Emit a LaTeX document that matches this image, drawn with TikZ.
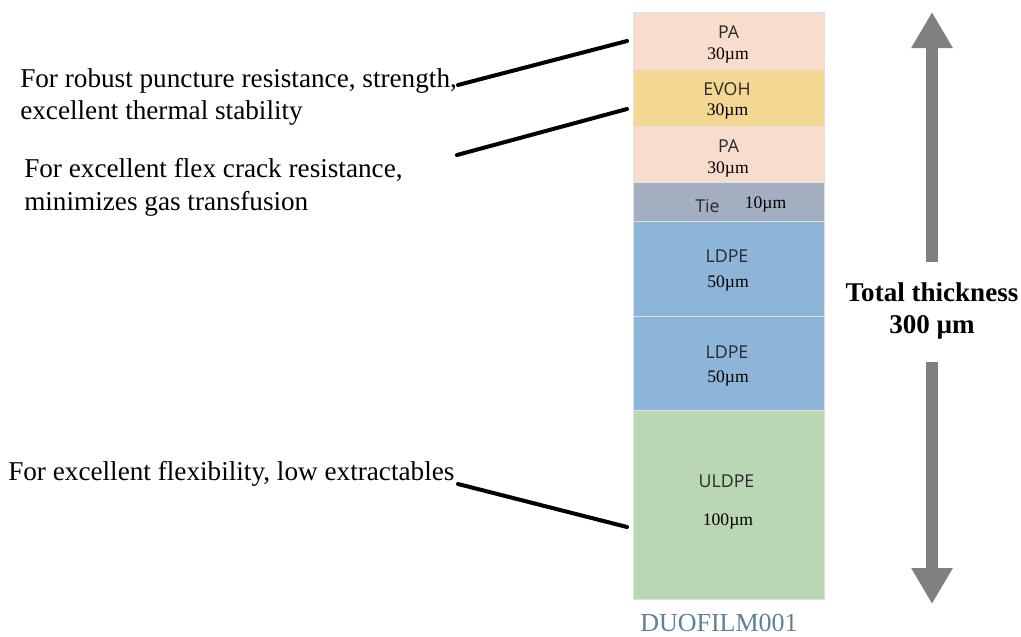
\documentclass[tikz,border=0pt]{standalone}
\usepackage{fontspec}
\setmainfont{Liberation Serif}
\newfontfamily\labfont{Open Sans}
\usetikzlibrary{arrows.meta}
\definecolor{pacol}{HTML}{F8DCCC}
\definecolor{evohcol}{HTML}{F5D794}
\definecolor{tiecol}{HTML}{A3AFC0}
\definecolor{ldpecol}{HTML}{8DB5DA}
\definecolor{uldpecol}{HTML}{B8D7B2}
\definecolor{arrcol}{HTML}{808080}
\definecolor{duocol}{HTML}{5F8196}
\definecolor{labcol}{HTML}{2A2A2A}
\tikzset{
  layerbox/.style={draw=white!88!black, line width=0.4pt, inner sep=0pt, outer sep=0pt,
    minimum width=143.25pt, anchor=north west},
  lname/.style={anchor=base, inner sep=0pt, font=\labfont\fontsize{13.3}{15}\selectfont, text=labcol},
  lthick/.style={anchor=base, inner sep=0pt, font=\fontsize{13.2}{15}\selectfont},
  desc/.style={anchor=base west, inner sep=0pt, font=\fontsize{20.4}{24}\selectfont},
  callout/.style={line width=3pt, line cap=round},
  bigarrow/.style={line width=9pt, draw=arrcol, -{Triangle[width=29.25pt,length=27pt]}},
}
\begin{document}
\begin{tikzpicture}[x=0.75pt,y=-0.75pt]
\useasboundingbox (0,0) rectangle (1021,636);
% layers
\node[layerbox, fill=pacol, minimum height=42.75pt] (pa1) at (633,12) {};
\node[layerbox, fill=evohcol, minimum height=42.75pt] (evoh) at (633,69) {};
\node[layerbox, fill=pacol, minimum height=42pt] (pa2) at (633,126) {};
\node[layerbox, fill=tiecol, minimum height=29.25pt] (tie) at (633,182) {};
\node[layerbox, fill=ldpecol, minimum height=71.25pt] (ldpe1) at (633,221) {};
\node[layerbox, fill=ldpecol, minimum height=70.5pt] (ldpe2) at (633,316) {};
\node[layerbox, fill=uldpecol, minimum height=141.75pt] (uldpe) at (633,410) {};
% layer labels
\node[lname] (n1) at (728.5,38) {PA};
\node[lthick] (t1) at (728,59) {30µm};
\node[lname] (n2) at (727,95) {EVOH};
\node[lthick] (t2) at (727.5,115) {30µm};
\node[lname] (n3) at (728.5,152) {PA};
\node[lthick] (t3) at (728,173) {30µm};
\node[lname] (n4) at (707.5,212) {Tie};
\node[lthick] (t4) at (765.5,208) {10µm};
\node[lname] (n5) at (727,262) {LDPE};
\node[lthick] (t5) at (728,287) {50µm};
\node[lname] (n6) at (727,358) {LDPE};
\node[lthick] (t6) at (728,382) {50µm};
\node[lname] (n7) at (726.5,487) {ULDPE};
\node[lthick] (t7) at (728,525) {100µm};
\node[anchor=base, inner sep=0pt, font=\fontsize{19.5}{22}\selectfont, text=duocol] (duo) at (719,631) {DUOFILM001};
% descriptions
\node[desc] (d1a) at (20,87) {For robust puncture resistance, strength,};
\node[desc] (d1b) at (20,119) {excellent thermal stability};
\node[desc] (d2a) at (24,177) {For excellent flex crack resistance,};
\node[desc] (d2b) at (24,210) {minimizes gas transfusion};
\node[desc] (d3) at (8,480) {For excellent flexibility, low extractables};
% callout lines
\coordinate (c1s) at (458,85);
\coordinate (c1e) at (627,41);
\coordinate (c2s) at (457,155);
\coordinate (c2e) at (627,109);
\coordinate (c3s) at (458,484);
\coordinate (c3e) at (627,527);
\draw[callout] (c1s) -- (c1e);
\draw[callout] (c2s) -- (c2e);
\draw[callout] (c3s) -- (c3e);
% total thickness
\node[anchor=base, inner sep=0pt, font=\bfseries\fontsize{20.3}{22}\selectfont] (tot1) at (932,301) {Total thickness};
\node[anchor=base, inner sep=0pt, font=\bfseries\fontsize{20.3}{22}\selectfont] (tot2) at (932,333) {300 µm};
\coordinate (au0) at (932,262);
\coordinate (au1) at (932,12);
\coordinate (ad0) at (932,362);
\coordinate (ad1) at (932,604);
\draw[bigarrow] (au0) -- (au1);
\draw[bigarrow] (ad0) -- (ad1);
\end{tikzpicture}
\end{document}
